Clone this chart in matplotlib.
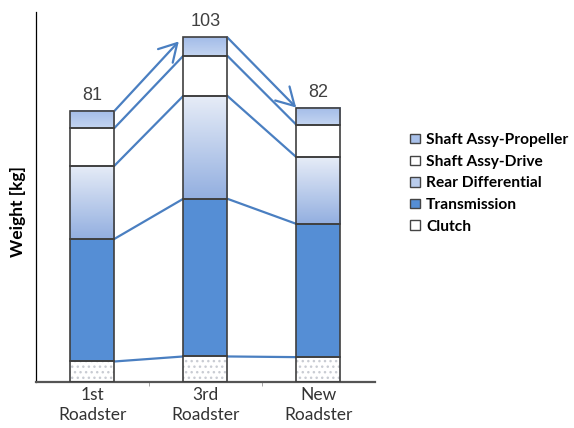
import numpy as np
import matplotlib
matplotlib.use("Agg")
import matplotlib.pyplot as plt
from matplotlib.colors import to_rgb
from matplotlib.patches import Rectangle

# data (kg)
cars = ["1st\nRoadster", "3rd\nRoadster", "New\nRoadster"]
clutch = [6.0, 7.5, 7.3]
transmission = [36.7, 47.2, 39.9]
rear_diff = [21.9, 30.8, 20.0]
shaft_drive = [11.3, 12.0, 9.7]
shaft_prop = [5.1, 5.5, 5.1]
totals = [81, 103, 82]

line_col = "#4A7FC1"
edge_col = "#3F3F3F"
w = 0.39

fig = plt.figure(figsize=(5.74, 4.28), dpi=100)
ax = fig.add_axes([0.0627, 0.1086, 0.59, 0.8641])
x = np.arange(len(cars))


def gradient(ax, xc, bottom, height, top_col, bot_col):
    t = np.linspace(0, 1, 64)[:, None, None]
    img = (1 - t) * np.array(to_rgb(top_col)) + t * np.array(to_rgb(bot_col))
    ax.imshow(img, extent=(xc - w / 2, xc + w / 2, bottom, bottom + height),
              origin="upper", aspect="auto", zorder=2, interpolation="bilinear")


layers = [clutch, transmission, rear_diff, shaft_drive, shaft_prop]
cum = np.zeros((len(layers) + 1, len(cars)))
for k, lay in enumerate(layers):
    cum[k + 1] = cum[k] + np.array(lay)

# clutch: white with light dotted pattern
ax.bar(x, clutch, w, color="white", hatch="...", edgecolor="#C9CCD3", linewidth=0, zorder=2)
# transmission: solid blue
ax.bar(x, transmission, w, bottom=cum[1], color="#558ED5", zorder=2)
# rear differential and propeller: gradients
for i in range(len(cars)):
    gradient(ax, x[i], cum[2][i], rear_diff[i], "#E6ECF7", "#93AFE0")
    gradient(ax, x[i], cum[4][i], shaft_prop[i], "#A3BCE8", "#C4D5F1")
# shaft drive: white
ax.bar(x, shaft_drive, w, bottom=cum[3], color="white", zorder=2)
# outlines
for k, lay in enumerate(layers):
    ax.bar(x, lay, w, bottom=cum[k], facecolor="none", edgecolor=edge_col,
           linewidth=1.2, zorder=3)

# connector lines between bars
for i in range(len(cars) - 1):
    for k in range(1, len(layers)):
        ax.plot([x[i] + w / 2, x[i + 1] - w / 2], [cum[k][i], cum[k][i + 1]],
                color=line_col, lw=1.6, zorder=1)
    end_x = x[i + 1] - w / 2 - (0.04 if cum[-1][i + 1] > cum[-1][i] else 0)
    end_y = cum[-1][i + 1] - (1.2 if cum[-1][i + 1] > cum[-1][i] else 0)
    ax.annotate("", xy=(end_x, end_y), xytext=(x[i] + w / 2, cum[-1][i]),
                arrowprops=dict(arrowstyle="->,head_length=0.7,head_width=0.4",
                                color=line_col, lw=1.6, shrinkA=0, shrinkB=0,
                                mutation_scale=18), zorder=1)

# totals on top
for i in range(len(cars)):
    ax.annotate(str(totals[i]), (x[i], cum[-1][i]), xytext=(0, 5),
                textcoords="offset points", ha="center", va="bottom",
                fontsize=13, color="#404040", family="Liberation Sans")

ax.set_xlim(-0.5, 2.5)
ax.set_ylim(0, 110.7)
ax.set_yticks([])
ax.set_xticks(x)
ax.set_xticklabels(cars, fontsize=12.5, family="Lato", color="#333333", linespacing=1.3)
ax.tick_params(axis="x", length=0, pad=4)
ax.set_xticks([0.5, 1.5], minor=True)
ax.tick_params(axis="x", which="minor", length=3, color="#999999")
for s in ["top", "right"]:
    ax.spines[s].set_visible(False)
ax.spines["left"].set_color("black")
ax.spines["left"].set_linewidth(0.9)
ax.spines["bottom"].set_color("#555555")
ax.spines["bottom"].set_linewidth(1.6)

fig.text(0.031, 0.505, "Weight [kg]", rotation=90, ha="center", va="center",
         fontsize=12.5, fontweight="bold", family="Lato")

# legend
names = ["Shaft Assy-Propeller", "Shaft Assy-Drive", "Rear Differential",
         "Transmission", "Clutch"]
fills = ["#A9C1EA", "white", "#B9CCEC", "#558ED5", "white"]
handles = [Rectangle((0, 0), 1, 1, facecolor=f, edgecolor="#444444", lw=1.0) for f in fills]
fig.legend(handles, names, loc="upper left", bbox_to_anchor=(0.700, 0.707),
           frameon=False, prop=dict(family="Lato", weight="bold", size=11.2),
           handlelength=0.7, handleheight=0.55, handletextpad=0.35,
           labelspacing=0.49, borderpad=0)

fig.savefig("out.png", dpi=100)
